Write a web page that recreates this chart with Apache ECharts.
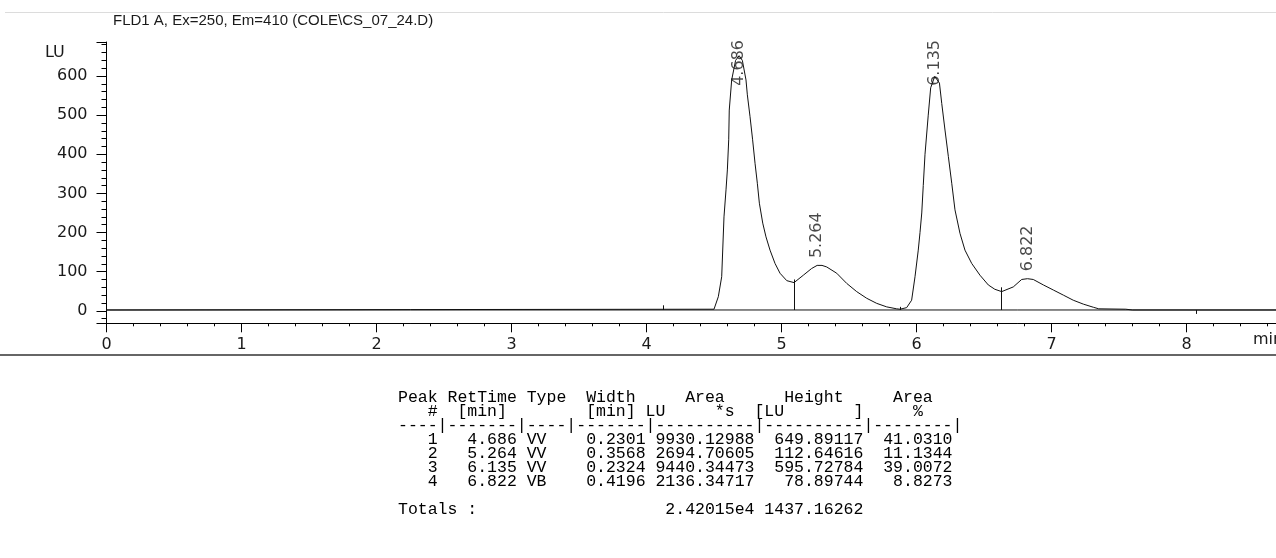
<!DOCTYPE html>
<html>
<head>
<meta charset="utf-8">
<script src="https://cdn.jsdelivr.net/npm/echarts@6/dist/echarts.min.js"></script>
<style>
html,body{margin:0;padding:0;background:#fff;overflow:hidden;}
#c{width:1322px;height:558px;}
</style>
</head>
<body>
<div id="c"></div>
<script>
// ---- chromatogram trace (time in min, signal in LU) ----
const traceTime = [0.00, 4.50, 4.532, 4.557, 4.574, 4.589, 4.599, 4.609, 4.613, 4.631, 4.66, 4.686, 4.71, 4.737, 4.747, 4.767, 4.786, 4.804, 4.821, 4.836, 4.861, 4.885, 4.915, 4.952, 4.989, 5.039, 5.093, 5.162, 5.223, 5.264, 5.30, 5.335, 5.409, 5.483, 5.557, 5.631, 5.705, 5.779, 5.853, 5.878, 5.927, 5.964, 5.989, 6.013, 6.026, 6.039, 6.050, 6.063, 6.087, 6.105, 6.135, 6.17, 6.187, 6.211, 6.236, 6.261, 6.285, 6.322, 6.359, 6.409, 6.47, 6.532, 6.58, 6.631, 6.717, 6.779, 6.822, 6.865, 6.94, 7.014, 7.088, 7.161, 7.236, 7.31, 7.35, 7.55, 7.60, 9.00];
const traceSignal = [2, 4, 36, 87, 240, 309, 360, 437, 513, 590, 640, 652, 640, 590, 552, 496, 437, 377, 326, 275, 224, 189, 155, 121, 96, 77, 72, 91, 108, 116, 116, 112, 96, 70, 49, 32, 19, 10, 5, 4, 8, 27, 87, 155, 200, 250, 320, 400, 500, 570, 599, 582, 530, 462, 394, 326, 258, 198, 155, 121, 91, 66, 55, 49, 61, 80, 82, 80, 66, 53, 40, 27, 17, 9, 5, 4, 2, 2];
const baseTime = [0, 9];
const baseSignal = [2, 2];

// ---- integration marks ----
const dropTimes = [5.093, 5.878, 6.631, 4.125, 8.07];
const dropTops = [80, 10, 60, 14, -8];

// ---- peak table ----
const peakNo = [1, 2, 3, 4];
const retTime = [4.686, 5.264, 6.135, 6.822];
const peakType = ['VV', 'VV', 'VV', 'VB'];
const widthMin = [0.2301, 0.3568, 0.2324, 0.4196];
const areaLUs = [9930.12988, 2694.70605, 9440.34473, 2136.34717];
const heightLU = [649.89117, 112.64616, 595.72784, 78.89744];
const areaPct = [41.0310, 11.1344, 39.0072, 8.8273];
const totalArea = '2.42015e4';
const totalHeight = 1437.16262;

// ---- axis text ----
const titleText = 'FLD1 A, Ex=250, Em=410 (COLE\\CS_07_24.D)';
const yUnit = 'LU';
const xUnit = 'min';

const tableLines = [
  'Peak RetTime Type  Width     Area      Height     Area  ',
  '   #  [min]        [min] LU     *s  [LU       ]     %',
  '----|-------|----|-------|----------|----------|--------|'
];
for (let i = 0; i < peakNo.length; i++) {
  tableLines.push(
    String(peakNo[i]).padStart(4) + ' ' +
    retTime[i].toFixed(3).padStart(7) + ' ' +
    peakType[i].padEnd(4) + ' ' +
    widthMin[i].toFixed(4).padStart(7) + ' ' +
    areaLUs[i].toFixed(5).padStart(10) + ' ' +
    heightLU[i].toFixed(5).padStart(10) + ' ' +
    areaPct[i].toFixed(4).padStart(8)
  );
}
tableLines.push('');
tableLines.push('Totals :'.padEnd(26) + totalArea.padStart(10) + ' ' + totalHeight.toFixed(5).padStart(10));

const chart = echarts.init(document.getElementById('c'), null, {renderer: 'canvas'});
const axisFont = 'DejaVu Sans';
chart.setOption({
  animation: false,
  backgroundColor: '#fff',
  title: {
    text: titleText, left: 108, top: 8,
    textStyle: {fontFamily: 'Liberation Sans', fontSize: 15, fontWeight: 'normal', color: '#1a1a1a'}
  },
  grid: {left: 106.5, top: 42, right: 0.5, height: 281.3},
  xAxis: {
    type: 'value', min: 0, max: 9, interval: 1,
    axisLine: {onZero: false, lineStyle: {color: '#000', width: 1}},
    axisTick: {length: 9, lineStyle: {color: '#000'}},
    minorTick: {show: true, splitNumber: 5, length: 3, lineStyle: {color: '#000'}},
    splitLine: {show: false},
    axisLabel: {fontFamily: axisFont, fontSize: 16, color: '#1a1a1a', margin: 14, showMaxLabel: false}
  },
  yAxis: {
    type: 'value', min: -32, max: 687, splitNumber: 7,
    axisLine: {lineStyle: {color: '#000', width: 1}},
    axisTick: {length: 10, lineStyle: {color: '#000'}},
    minorTick: {show: true, splitNumber: 5, length: 5, lineStyle: {color: '#000'}},
    splitLine: {show: false},
    axisLabel: {fontFamily: axisFont, fontSize: 16, color: '#1a1a1a', margin: 19, showMinLabel: false, showMaxLabel: false}
  },
  series: [
    {
      type: 'line', showSymbol: false, symbol: 'none', silent: true,
      data: baseTime.map((t, i) => [t, baseSignal[i]]),
      lineStyle: {color: '#111', width: 1}
    },
    {
      type: 'line', showSymbol: false, symbol: 'none', silent: true,
      data: traceTime.map((t, i) => [t, traceSignal[i]]),
      lineStyle: {color: '#111', width: 1},
      markLine: {
        symbol: ['none', 'none'], silent: true, animation: false,
        label: {show: false},
        lineStyle: {color: '#111', width: 1, type: 'solid'},
        data: dropTimes.map((t, i) => [{coord: [t, 2]}, {coord: [t, dropTops[i]]}])
      }
    },
    {
      type: 'scatter', symbolSize: 0, silent: true,
      data: retTime.map((t, i) => [t, Math.min(heightLU[i] + 22, 575)]),
      label: {
        show: true, position: 'inside', rotate: 90, align: 'left', verticalAlign: 'middle',
        formatter: p => p.value[0].toFixed(3),
        fontFamily: axisFont, fontSize: 16, color: '#1a1a1a'
      }
    }
  ],
  graphic: [
    {type: 'line', silent: true, shape: {x1: 5, y1: 12.5, x2: 1322, y2: 12.5}, style: {stroke: '#dcdcdc', lineWidth: 1}},
    {type: 'line', silent: true, shape: {x1: 0, y1: 355, x2: 1322, y2: 355}, style: {stroke: '#333', lineWidth: 1.5}},
    {type: 'text', left: 45, top: 45, style: {text: yUnit, font: '16px "DejaVu Sans"', fill: '#1a1a1a'}},
    {type: 'text', left: 1253, top: 332, style: {text: xUnit, font: '16px "DejaVu Sans"', fill: '#1a1a1a'}},
    {type: 'text', left: 398, top: 389, style: {text: tableLines.join('\n'), font: '16.5px "Liberation Mono"', lineHeight: 14, fill: '#000'}}
  ]
});
</script>
</body>
</html>
